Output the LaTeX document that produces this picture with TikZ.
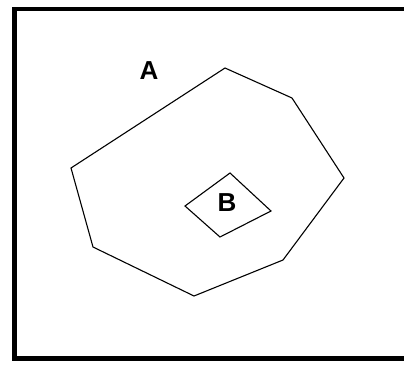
\documentclass[tikz,border=0pt]{standalone}
\usepackage{fontspec}
\setmainfont{Liberation Sans}
\begin{document}
\begin{tikzpicture}[x=1pt,y=-1pt,
  frame/.style={line width=4.5pt},
  outline/.style={line width=1.1pt, line join=miter},
  lbl/.style={font=\bfseries\fontsize{26}{26}\selectfont, inner sep=0pt}]
\useasboundingbox (0,0) rectangle (404,367);
\fill[white] (0,0) rectangle (404,367);
\begin{scope}
\clip (0,0) rectangle (404,367);
\draw[frame] (420,9) -- (14.5,9) -- (14.5,358.5) -- (420,358.5);
\end{scope}
% outer polygon A
\draw[outline] (225,68) coordinate (p1) -- (292,98) coordinate (p2) -- (344,178) coordinate (p3)
  -- (283,260) coordinate (p4) -- (194,296) coordinate (p5) -- (93,247) coordinate (p6)
  -- (71,168) coordinate (p7) -- cycle;
% inner diamond B
\draw[outline] (230,173) coordinate (q1) -- (271,211) coordinate (q2) -- (220,237) coordinate (q3)
  -- (185,206) coordinate (q4) -- cycle;
\node[lbl] (A) at (149,71) {A};
\node[lbl] (B) at (227,203) {B};
\end{tikzpicture}
\end{document}
